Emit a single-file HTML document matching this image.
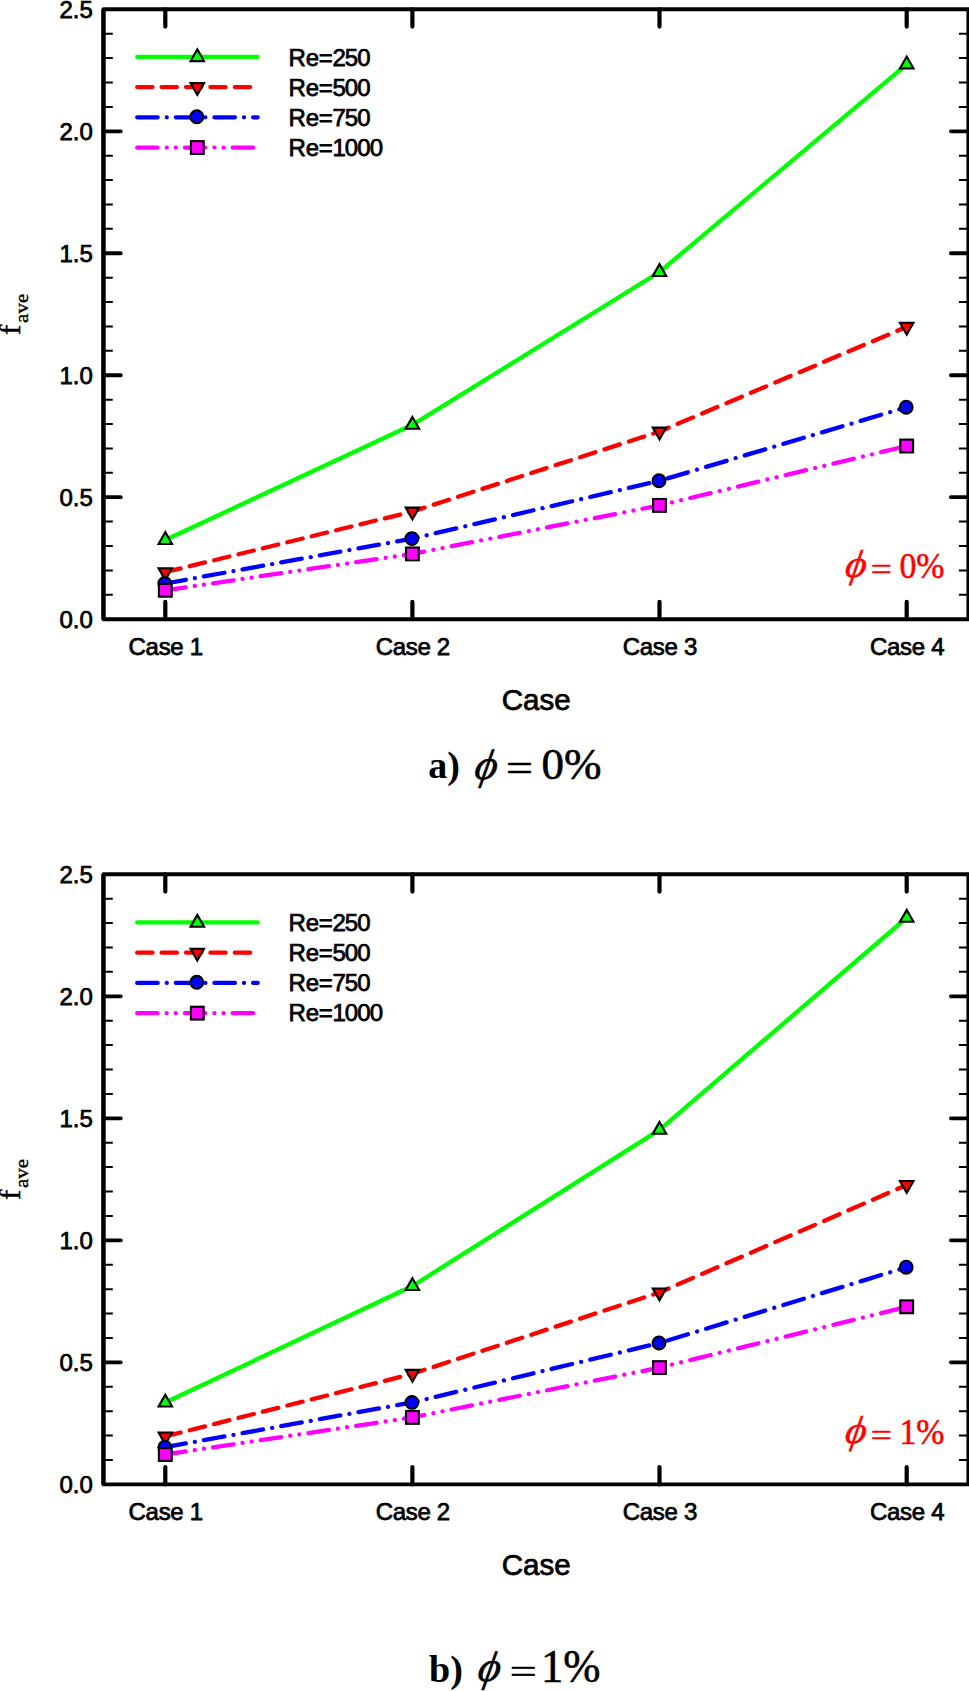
<!DOCTYPE html>
<html lang="en">
<head>
<meta charset="utf-8">
<title>Average friction factor versus case</title>
<style>
html,body{margin:0;padding:0;background:#fff;}
body{width:969px;height:1691px;overflow:hidden;}
svg{display:block;}
text{fill:#000;}
.s24{font-family:"Liberation Sans",sans-serif;font-size:24px;stroke:#000;stroke-width:0.75px;}
.s28{font-family:"Liberation Sans",sans-serif;font-size:29.5px;stroke:#000;stroke-width:0.75px;}
.f36{font-family:"Liberation Serif",serif;font-size:29.3px;stroke:#000;stroke-width:0.5px;}
.sub{font-size:19.7px;stroke-width:0.4px;}
.ann text{font-family:"Liberation Serif",serif;fill:#ff0000;}
.it{font-style:italic;}
.cap,.cap text{font-family:"Liberation Serif",serif;}
.capb{font-weight:bold;font-size:38px;}
</style>
</head>
<body>
<svg width="969" height="1691" viewBox="0 0 969 1691">
<rect width="969" height="1691" fill="#fff"/>
<rect x="103.5" y="9.3" width="865.20" height="609.90" fill="none" stroke="#000" stroke-width="3.9" stroke-linejoin="round"/>
<path d="M103.5 497.22h17.3M968.7 497.22h-17.8M103.5 375.24h17.3M968.7 375.24h-17.8M103.5 253.26h17.3M968.7 253.26h-17.8M103.5 131.28h17.3M968.7 131.28h-17.8" stroke="#000" stroke-width="3.8" stroke-linecap="round" fill="none"/>
<path d="M165.3 9.3v17.3M165.3 619.2v-17.3M412.4 9.3v17.3M412.4 619.2v-17.3M659.5 9.3v17.3M659.5 619.2v-17.3M906.7 9.3v17.3M906.7 619.2v-17.3" stroke="#000" stroke-width="4.2" stroke-linecap="round" fill="none"/>
<path d="M103.4 9.3V619.2M968.7 9.3V619.2" stroke="#000" stroke-width="4.2" fill="none"/>
<path d="M103.5 594.80h9.3M968.7 594.80h-9.8M103.5 570.41h9.3M968.7 570.41h-9.8M103.5 546.01h9.3M968.7 546.01h-9.8M103.5 521.62h9.3M968.7 521.62h-9.8M103.5 472.82h9.3M968.7 472.82h-9.8M103.5 448.43h9.3M968.7 448.43h-9.8M103.5 424.03h9.3M968.7 424.03h-9.8M103.5 399.64h9.3M968.7 399.64h-9.8M103.5 350.84h9.3M968.7 350.84h-9.8M103.5 326.45h9.3M968.7 326.45h-9.8M103.5 302.05h9.3M968.7 302.05h-9.8M103.5 277.66h9.3M968.7 277.66h-9.8M103.5 228.86h9.3M968.7 228.86h-9.8M103.5 204.47h9.3M968.7 204.47h-9.8M103.5 180.07h9.3M968.7 180.07h-9.8M103.5 155.68h9.3M968.7 155.68h-9.8M103.5 106.88h9.3M968.7 106.88h-9.8M103.5 82.49h9.3M968.7 82.49h-9.8M103.5 58.09h9.3M968.7 58.09h-9.8M103.5 33.70h9.3M968.7 33.70h-9.8" stroke="#000" stroke-width="2.0" fill="none"/>
<text x="92.8" y="627.70" text-anchor="end" class="s24">0.0</text>
<text x="92.8" y="505.72" text-anchor="end" class="s24">0.5</text>
<text x="92.8" y="383.74" text-anchor="end" class="s24">1.0</text>
<text x="92.8" y="261.76" text-anchor="end" class="s24">1.5</text>
<text x="92.8" y="139.78" text-anchor="end" class="s24">2.0</text>
<text x="92.8" y="17.80" text-anchor="end" class="s24">2.5</text>
<text x="165.70" y="654.90" text-anchor="middle" class="s24" letter-spacing="-0.3">Case 1</text>
<text x="412.80" y="654.90" text-anchor="middle" class="s24" letter-spacing="-0.3">Case 2</text>
<text x="659.90" y="654.90" text-anchor="middle" class="s24" letter-spacing="-0.3">Case 3</text>
<text x="907.10" y="654.90" text-anchor="middle" class="s24" letter-spacing="-0.3">Case 4</text>
<text x="536.2" y="709.60" text-anchor="middle" class="s28">Case</text>
<g transform="translate(20.3,334.95) rotate(-90)" class="f36"><text transform="scale(1.06,1)">f</text><text transform="translate(12.0,7.7) scale(1.07,1)" class="sub">ave</text></g>
<path d="M137.2 56.85H257.7" stroke="#00ff00" stroke-width="4.3" stroke-linecap="round" fill="none"/>
<polygon points="197.30,49.26 204.04,61.09 190.56,61.09" fill="#00ff00" stroke="#000" stroke-width="2.1" stroke-linejoin="miter"/>
<text x="288.6" y="66.35" class="s24"><tspan letter-spacing="-0.3">Re=</tspan><tspan letter-spacing="-0.9">250</tspan></text>
<path d="M137.2 87.08H257.7" stroke="#ff0000" stroke-width="4.3" stroke-linecap="round" fill="none" stroke-dasharray="15.3 9.1"/>
<polygon points="197.30,94.97 204.04,83.14 190.56,83.14" fill="#ff0000" stroke="#000" stroke-width="2.1" stroke-linejoin="miter"/>
<text x="288.6" y="96.35" class="s24"><tspan letter-spacing="-0.3">Re=</tspan><tspan letter-spacing="-0.9">500</tspan></text>
<path d="M137.2 117.31H257.7" stroke="#0000ff" stroke-width="4.3" stroke-linecap="round" fill="none" stroke-dasharray="20.5 9.06 0.01 9.06"/>
<circle cx="196.80" cy="116.71" r="6.4" fill="#0000ff" stroke="#000" stroke-width="2.1"/>
<text x="288.6" y="126.35" class="s24"><tspan letter-spacing="-0.3">Re=</tspan><tspan letter-spacing="-0.9">750</tspan></text>
<path d="M137.2 147.54H257.7" stroke="#ff00ff" stroke-width="4.3" stroke-linecap="round" fill="none" stroke-dasharray="20.4 9.1 0.01 9.1 0.01 9.1"/>
<rect x="190.90" y="141.14" width="12.8" height="12.8" fill="#ff00ff" stroke="#000" stroke-width="2.1"/>
<text x="288.6" y="156.35" class="s24"><tspan letter-spacing="-0.3">Re=</tspan><tspan letter-spacing="-0.9">1000</tspan></text>
<path d="M165.30 540.00L412.40 424.80L659.50 272.00L906.70 64.45" stroke="#00ff00" stroke-width="4.3" stroke-linecap="round" stroke-linejoin="round" fill="none"/>
<polygon points="165.30,532.11 172.04,543.94 158.56,543.94" fill="#00ff00" stroke="#000" stroke-width="2.1" stroke-linejoin="miter"/>
<polygon points="412.40,416.91 419.14,428.74 405.66,428.74" fill="#00ff00" stroke="#000" stroke-width="2.1" stroke-linejoin="miter"/>
<polygon points="659.50,264.11 666.24,275.94 652.76,275.94" fill="#00ff00" stroke="#000" stroke-width="2.1" stroke-linejoin="miter"/>
<polygon points="906.70,56.56 913.44,68.39 899.96,68.39" fill="#00ff00" stroke="#000" stroke-width="2.1" stroke-linejoin="miter"/>
<path d="M165.30 572.20L412.40 511.55" stroke="#ff0000" stroke-width="4.3" stroke-linecap="round" fill="none" stroke-dasharray="15.754 9.370" stroke-dashoffset="0.000"/>
<path d="M412.40 511.55L659.50 431.55" stroke="#ff0000" stroke-width="4.3" stroke-linecap="round" fill="none" stroke-dasharray="16.082 9.565" stroke-dashoffset="3.258"/>
<path d="M659.50 431.55L906.70 326.85" stroke="#ff0000" stroke-width="4.3" stroke-linecap="round" fill="none" stroke-dasharray="16.616 9.883" stroke-dashoffset="6.733"/>
<polygon points="165.30,580.09 172.04,568.26 158.56,568.26" fill="#ff0000" stroke="#000" stroke-width="2.1" stroke-linejoin="miter"/>
<polygon points="412.40,519.44 419.14,507.61 405.66,507.61" fill="#ff0000" stroke="#000" stroke-width="2.1" stroke-linejoin="miter"/>
<polygon points="659.50,439.44 666.24,427.61 652.76,427.61" fill="#ff0000" stroke="#000" stroke-width="2.1" stroke-linejoin="miter"/>
<polygon points="906.70,334.74 913.44,322.91 899.96,322.91" fill="#ff0000" stroke="#000" stroke-width="2.1" stroke-linejoin="miter"/>
<path d="M165.30 583.50L412.40 538.60" stroke="#0000ff" stroke-width="4.3" stroke-linecap="round" fill="none" stroke-dasharray="20.836 9.208 0.01 9.208" stroke-dashoffset="0.000"/>
<path d="M412.40 538.60L659.50 480.80" stroke="#0000ff" stroke-width="4.3" stroke-linecap="round" fill="none" stroke-dasharray="21.053 9.305 0.01 9.305" stroke-dashoffset="15.734"/>
<path d="M659.50 480.80L906.70 407.20" stroke="#0000ff" stroke-width="4.3" stroke-linecap="round" fill="none" stroke-dasharray="21.389 9.453 0.01 9.453" stroke-dashoffset="31.969"/>
<circle cx="164.80" cy="583.50" r="6.4" fill="#0000ff" stroke="#000" stroke-width="2.1"/>
<circle cx="411.90" cy="538.60" r="6.4" fill="#0000ff" stroke="#000" stroke-width="2.1"/>
<circle cx="659.00" cy="480.80" r="6.4" fill="#0000ff" stroke="#000" stroke-width="2.1"/>
<circle cx="906.20" cy="407.20" r="6.4" fill="#0000ff" stroke="#000" stroke-width="2.1"/>
<path d="M165.30 590.30L412.40 553.90" stroke="#ff00ff" stroke-width="4.3" stroke-linecap="round" fill="none" stroke-dasharray="20.620 9.198 0.01 9.198 0.01 9.198" stroke-dashoffset="0.000"/>
<path d="M412.40 553.90L659.50 505.40" stroke="#ff00ff" stroke-width="4.3" stroke-linecap="round" fill="none" stroke-dasharray="20.789 9.274 0.01 9.274 0.01 9.274" stroke-dashoffset="8.662"/>
<path d="M659.50 505.40L906.70 446.00" stroke="#ff00ff" stroke-width="4.3" stroke-linecap="round" fill="none" stroke-dasharray="20.981 9.359 0.01 9.359 0.01 9.359" stroke-dashoffset="17.484"/>
<rect x="158.90" y="583.90" width="12.8" height="12.8" fill="#ff00ff" stroke="#000" stroke-width="2.1"/>
<rect x="406.00" y="547.50" width="12.8" height="12.8" fill="#ff00ff" stroke="#000" stroke-width="2.1"/>
<rect x="653.10" y="499.00" width="12.8" height="12.8" fill="#ff00ff" stroke="#000" stroke-width="2.1"/>
<rect x="900.30" y="439.60" width="12.8" height="12.8" fill="#ff00ff" stroke="#000" stroke-width="2.1"/>
<g class="ann" stroke="#ff0000" stroke-width="0.55"><text transform="translate(844.10,577.00) skewX(-9) scale(1.07,1.02)" font-size="38" class="it">ϕ</text><text transform="translate(870.80,579.90) scale(1.105,0.93)" font-size="34">=</text><text transform="translate(899.40,577.90) scale(0.95,1)" font-size="35.6">0%</text></g>
<text x="428.30" y="777.70" class="cap capb">a)</text><g class="cap" stroke="#000" stroke-width="0.6"><text transform="translate(473.30,778.90) skewX(-10) scale(1.04,1.02)" font-size="41.5" class="it">ϕ</text><text transform="translate(506.10,781.70) scale(1.14,0.957)" font-size="42">=</text><text transform="translate(541.60,779.40) scale(1.03,1)" font-size="43.7">0%</text></g>
<rect x="103.5" y="874.25" width="865.20" height="610.15" fill="none" stroke="#000" stroke-width="3.9" stroke-linejoin="round"/>
<path d="M103.5 1362.37h17.3M968.7 1362.37h-17.8M103.5 1240.34h17.3M968.7 1240.34h-17.8M103.5 1118.31h17.3M968.7 1118.31h-17.8M103.5 996.28h17.3M968.7 996.28h-17.8" stroke="#000" stroke-width="3.8" stroke-linecap="round" fill="none"/>
<path d="M165.3 874.25v17.3M165.3 1484.4v-17.3M412.4 874.25v17.3M412.4 1484.4v-17.3M659.5 874.25v17.3M659.5 1484.4v-17.3M906.7 874.25v17.3M906.7 1484.4v-17.3" stroke="#000" stroke-width="4.2" stroke-linecap="round" fill="none"/>
<path d="M103.4 874.25V1484.4M968.7 874.25V1484.4" stroke="#000" stroke-width="4.2" fill="none"/>
<path d="M103.5 1459.99h9.3M968.7 1459.99h-9.8M103.5 1435.59h9.3M968.7 1435.59h-9.8M103.5 1411.18h9.3M968.7 1411.18h-9.8M103.5 1386.78h9.3M968.7 1386.78h-9.8M103.5 1337.96h9.3M968.7 1337.96h-9.8M103.5 1313.56h9.3M968.7 1313.56h-9.8M103.5 1289.15h9.3M968.7 1289.15h-9.8M103.5 1264.75h9.3M968.7 1264.75h-9.8M103.5 1215.93h9.3M968.7 1215.93h-9.8M103.5 1191.53h9.3M968.7 1191.53h-9.8M103.5 1167.12h9.3M968.7 1167.12h-9.8M103.5 1142.72h9.3M968.7 1142.72h-9.8M103.5 1093.90h9.3M968.7 1093.90h-9.8M103.5 1069.50h9.3M968.7 1069.50h-9.8M103.5 1045.09h9.3M968.7 1045.09h-9.8M103.5 1020.69h9.3M968.7 1020.69h-9.8M103.5 971.87h9.3M968.7 971.87h-9.8M103.5 947.47h9.3M968.7 947.47h-9.8M103.5 923.06h9.3M968.7 923.06h-9.8M103.5 898.66h9.3M968.7 898.66h-9.8" stroke="#000" stroke-width="2.0" fill="none"/>
<text x="92.8" y="1492.90" text-anchor="end" class="s24">0.0</text>
<text x="92.8" y="1370.87" text-anchor="end" class="s24">0.5</text>
<text x="92.8" y="1248.84" text-anchor="end" class="s24">1.0</text>
<text x="92.8" y="1126.81" text-anchor="end" class="s24">1.5</text>
<text x="92.8" y="1004.78" text-anchor="end" class="s24">2.0</text>
<text x="92.8" y="882.75" text-anchor="end" class="s24">2.5</text>
<text x="165.70" y="1520.20" text-anchor="middle" class="s24" letter-spacing="-0.3">Case 1</text>
<text x="412.80" y="1520.20" text-anchor="middle" class="s24" letter-spacing="-0.3">Case 2</text>
<text x="659.90" y="1520.20" text-anchor="middle" class="s24" letter-spacing="-0.3">Case 3</text>
<text x="907.10" y="1520.20" text-anchor="middle" class="s24" letter-spacing="-0.3">Case 4</text>
<text x="536.2" y="1575.00" text-anchor="middle" class="s28">Case</text>
<g transform="translate(20.3,1200.03) rotate(-90)" class="f36"><text transform="scale(1.06,1)">f</text><text transform="translate(12.0,7.7) scale(1.07,1)" class="sub">ave</text></g>
<path d="M137.2 922.45H257.7" stroke="#00ff00" stroke-width="4.3" stroke-linecap="round" fill="none"/>
<polygon points="197.30,914.86 204.04,926.69 190.56,926.69" fill="#00ff00" stroke="#000" stroke-width="2.1" stroke-linejoin="miter"/>
<text x="288.6" y="931.35" class="s24"><tspan letter-spacing="-0.3">Re=</tspan><tspan letter-spacing="-0.9">250</tspan></text>
<path d="M137.2 952.68H257.7" stroke="#ff0000" stroke-width="4.3" stroke-linecap="round" fill="none" stroke-dasharray="15.3 9.1"/>
<polygon points="197.30,960.57 204.04,948.74 190.56,948.74" fill="#ff0000" stroke="#000" stroke-width="2.1" stroke-linejoin="miter"/>
<text x="288.6" y="961.35" class="s24"><tspan letter-spacing="-0.3">Re=</tspan><tspan letter-spacing="-0.9">500</tspan></text>
<path d="M137.2 982.91H257.7" stroke="#0000ff" stroke-width="4.3" stroke-linecap="round" fill="none" stroke-dasharray="20.5 9.06 0.01 9.06"/>
<circle cx="196.80" cy="982.31" r="6.4" fill="#0000ff" stroke="#000" stroke-width="2.1"/>
<text x="288.6" y="991.35" class="s24"><tspan letter-spacing="-0.3">Re=</tspan><tspan letter-spacing="-0.9">750</tspan></text>
<path d="M137.2 1013.14H257.7" stroke="#ff00ff" stroke-width="4.3" stroke-linecap="round" fill="none" stroke-dasharray="20.4 9.1 0.01 9.1 0.01 9.1"/>
<rect x="190.90" y="1006.74" width="12.8" height="12.8" fill="#ff00ff" stroke="#000" stroke-width="2.1"/>
<text x="288.6" y="1021.35" class="s24"><tspan letter-spacing="-0.3">Re=</tspan><tspan letter-spacing="-0.9">1000</tspan></text>
<path d="M165.30 1402.55L412.40 1286.05L659.50 1129.85L906.70 917.75" stroke="#00ff00" stroke-width="4.3" stroke-linecap="round" stroke-linejoin="round" fill="none"/>
<polygon points="165.30,1394.66 172.04,1406.49 158.56,1406.49" fill="#00ff00" stroke="#000" stroke-width="2.1" stroke-linejoin="miter"/>
<polygon points="412.40,1278.16 419.14,1289.99 405.66,1289.99" fill="#00ff00" stroke="#000" stroke-width="2.1" stroke-linejoin="miter"/>
<polygon points="659.50,1121.96 666.24,1133.79 652.76,1133.79" fill="#00ff00" stroke="#000" stroke-width="2.1" stroke-linejoin="miter"/>
<polygon points="906.70,909.86 913.44,921.69 899.96,921.69" fill="#00ff00" stroke="#000" stroke-width="2.1" stroke-linejoin="miter"/>
<path d="M165.30 1436.40L412.40 1373.85" stroke="#ff0000" stroke-width="4.3" stroke-linecap="round" fill="none" stroke-dasharray="15.783 9.387" stroke-dashoffset="0.000"/>
<path d="M412.40 1373.85L659.50 1292.45" stroke="#ff0000" stroke-width="4.3" stroke-linecap="round" fill="none" stroke-dasharray="16.109 9.581" stroke-dashoffset="3.264"/>
<path d="M659.50 1292.45L906.70 1185.00" stroke="#ff0000" stroke-width="4.3" stroke-linecap="round" fill="none" stroke-dasharray="16.683 9.922" stroke-dashoffset="6.760"/>
<polygon points="165.30,1444.29 172.04,1432.46 158.56,1432.46" fill="#ff0000" stroke="#000" stroke-width="2.1" stroke-linejoin="miter"/>
<polygon points="412.40,1381.74 419.14,1369.91 405.66,1369.91" fill="#ff0000" stroke="#000" stroke-width="2.1" stroke-linejoin="miter"/>
<polygon points="659.50,1300.34 666.24,1288.51 652.76,1288.51" fill="#ff0000" stroke="#000" stroke-width="2.1" stroke-linejoin="miter"/>
<polygon points="906.70,1192.89 913.44,1181.06 899.96,1181.06" fill="#ff0000" stroke="#000" stroke-width="2.1" stroke-linejoin="miter"/>
<path d="M165.30 1447.20L412.40 1402.40" stroke="#0000ff" stroke-width="4.3" stroke-linecap="round" fill="none" stroke-dasharray="20.834 9.208 0.01 9.208" stroke-dashoffset="0.000"/>
<path d="M412.40 1402.40L659.50 1343.00" stroke="#0000ff" stroke-width="4.3" stroke-linecap="round" fill="none" stroke-dasharray="21.084 9.318 0.01 9.318" stroke-dashoffset="15.756"/>
<path d="M659.50 1343.00L906.70 1267.20" stroke="#0000ff" stroke-width="4.3" stroke-linecap="round" fill="none" stroke-dasharray="21.442 9.476 0.01 9.476" stroke-dashoffset="32.048"/>
<circle cx="164.80" cy="1447.20" r="6.4" fill="#0000ff" stroke="#000" stroke-width="2.1"/>
<circle cx="411.90" cy="1402.40" r="6.4" fill="#0000ff" stroke="#000" stroke-width="2.1"/>
<circle cx="659.00" cy="1343.00" r="6.4" fill="#0000ff" stroke="#000" stroke-width="2.1"/>
<circle cx="906.20" cy="1267.20" r="6.4" fill="#0000ff" stroke="#000" stroke-width="2.1"/>
<path d="M165.30 1454.50L412.40 1417.40" stroke="#ff00ff" stroke-width="4.3" stroke-linecap="round" fill="none" stroke-dasharray="20.629 9.202 0.01 9.202 0.01 9.202" stroke-dashoffset="0.000"/>
<path d="M412.40 1417.40L659.50 1367.60" stroke="#ff00ff" stroke-width="4.3" stroke-linecap="round" fill="none" stroke-dasharray="20.810 9.283 0.01 9.283 0.01 9.283" stroke-dashoffset="8.671"/>
<path d="M659.50 1367.60L906.70 1306.80" stroke="#ff00ff" stroke-width="4.3" stroke-linecap="round" fill="none" stroke-dasharray="21.008 9.371 0.01 9.371 0.01 9.371" stroke-dashoffset="17.507"/>
<rect x="158.90" y="1448.10" width="12.8" height="12.8" fill="#ff00ff" stroke="#000" stroke-width="2.1"/>
<rect x="406.00" y="1411.00" width="12.8" height="12.8" fill="#ff00ff" stroke="#000" stroke-width="2.1"/>
<rect x="653.10" y="1361.20" width="12.8" height="12.8" fill="#ff00ff" stroke="#000" stroke-width="2.1"/>
<rect x="900.30" y="1300.40" width="12.8" height="12.8" fill="#ff00ff" stroke="#000" stroke-width="2.1"/>
<g class="ann" stroke="#ff0000" stroke-width="0.55"><text transform="translate(844.10,1442.80) skewX(-9) scale(1.07,1.02)" font-size="38" class="it">ϕ</text><text transform="translate(870.80,1445.70) scale(1.105,0.93)" font-size="34">=</text><text transform="translate(899.40,1443.70) scale(0.95,1)" font-size="35.6">1%</text></g>
<text x="429.00" y="1681.50" class="cap capb">b)</text><g class="cap" stroke="#000" stroke-width="0.6"><text transform="translate(476.50,1681.30) skewX(-10) scale(1.04,1.02)" font-size="41.5" class="it">ϕ</text><text transform="translate(509.70,1682.50) scale(1.14,0.8)" font-size="42">=</text><text transform="translate(540.90,1682.00) scale(0.975,1)" font-size="45.8">1%</text></g>
</svg>
</body>
</html>
